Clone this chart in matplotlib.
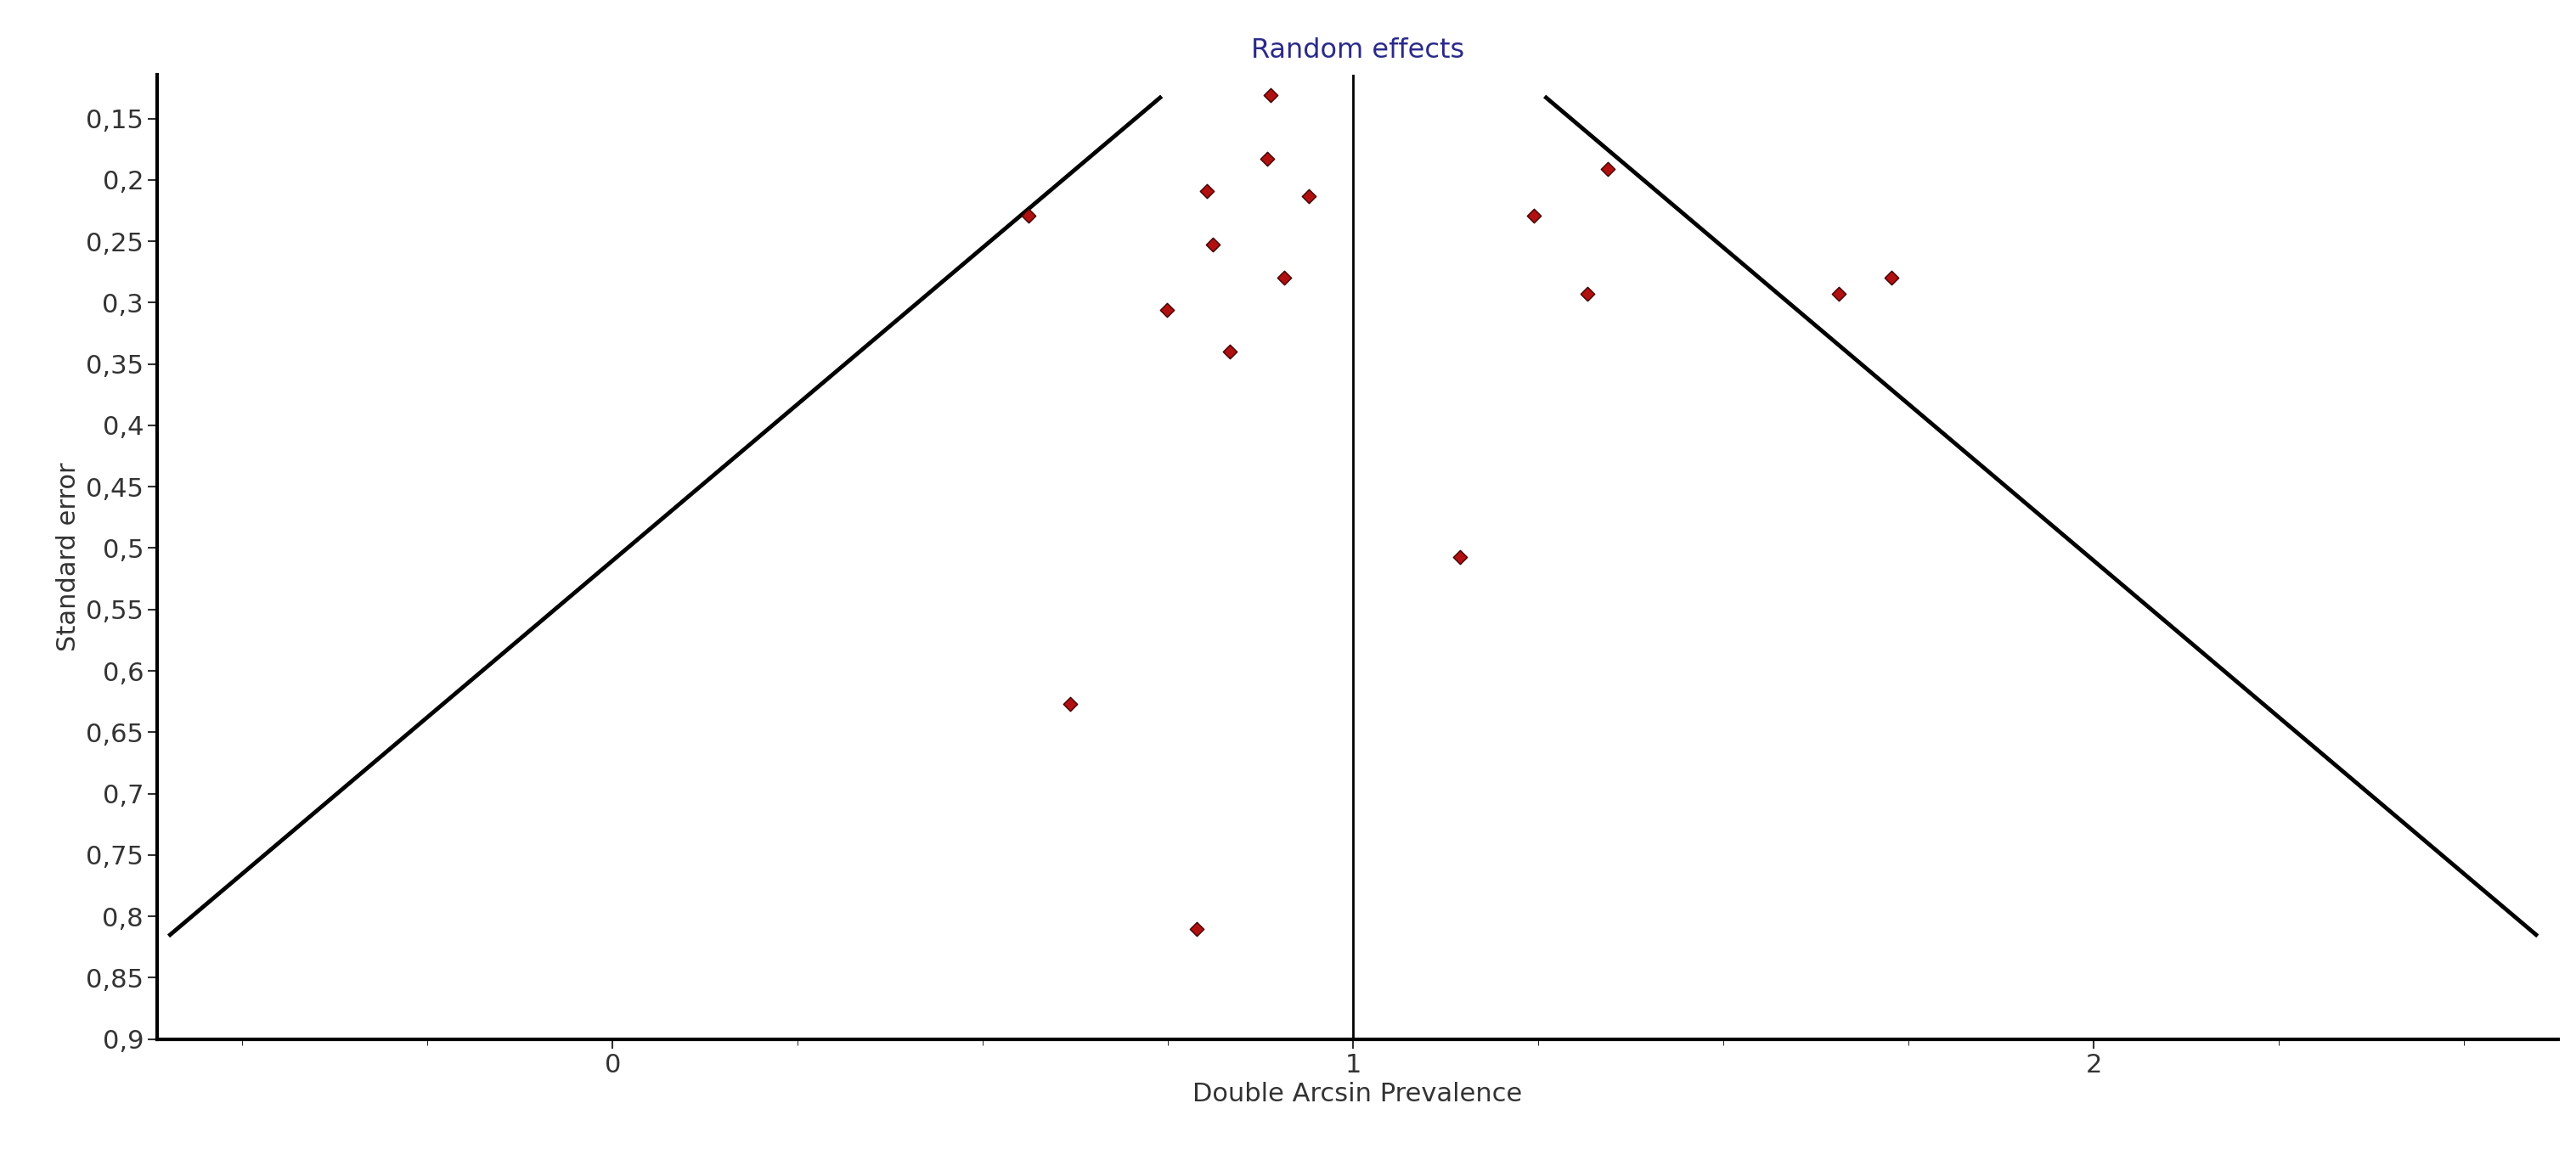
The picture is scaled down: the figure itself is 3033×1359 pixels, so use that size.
import matplotlib.pyplot as plt
import numpy as np
from matplotlib.ticker import FuncFormatter, MultipleLocator

# study estimates (double arcsine) and their standard errors
effect = [0.889, 0.884, 0.802, 0.940, 0.562, 0.811, 0.907, 0.749, 0.833, 0.618, 0.789,
          1.344, 1.244, 1.316, 1.656, 1.727, 1.144]
se = [0.131, 0.183, 0.209, 0.213, 0.229, 0.253, 0.280, 0.306, 0.340, 0.627, 0.810,
      0.191, 0.229, 0.293, 0.293, 0.280, 0.507]
pooled = 1.0
se_range = [0.133, 0.815]

fig = plt.figure(figsize=(30.33, 13.59), dpi=100)
ax = fig.add_axes([0.061, 0.0996, 0.932, 0.836])

s = np.array(se_range)
ax.plot(pooled - 1.96 * s, s, color='black', lw=3.5)
ax.plot(pooled + 1.96 * s, s, color='black', lw=3.5)
ax.axvline(pooled, color='black', lw=2)
ax.scatter(effect, se, marker='D', s=70, color='#b01010', edgecolors='#400000', linewidths=1, zorder=3)

ax.set_xlim(-0.615, 2.627)
ax.set_ylim(0.9, 0.114)
ax.set_yticks(np.arange(0.15, 0.901, 0.05))
ax.set_xticks([0, 1, 2])
ax.xaxis.set_minor_locator(MultipleLocator(0.25))
fmt = FuncFormatter(lambda v, p: ('%g' % round(v, 2)).replace('.', ','))
ax.yaxis.set_major_formatter(fmt)
ax.tick_params(labelsize=22, length=8, width=1.5, colors='#333333')
ax.tick_params(which='minor', length=5)
for side in ['top', 'right']:
    ax.spines[side].set_visible(False)
for side in ['left', 'bottom']:
    ax.spines[side].set_linewidth(3)

ax.set_xlabel('Double Arcsin Prevalence', fontsize=22, color='#333333')
ax.set_ylabel('Standard error', fontsize=22, color='#333333')
ax.set_title('Random effects', fontsize=23, color='#2a2a8a', pad=14)

fig.savefig('out.png')
